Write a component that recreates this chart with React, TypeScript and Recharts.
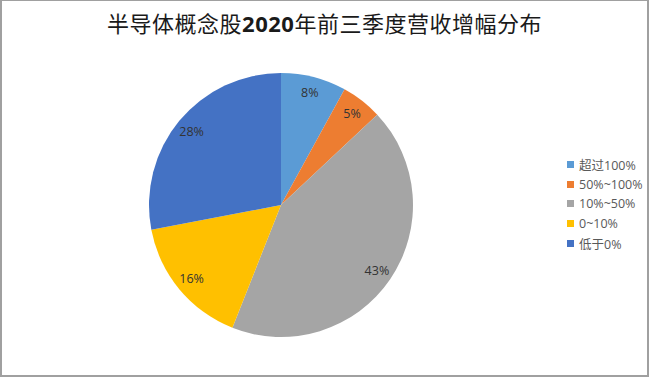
import React from "react";
import { PieChart, Pie, Cell } from "recharts";

const categories = ["超过100%", "50%~100%", "10%~50%", "0~10%", "低于0%"];
const shares = [8, 5, 43, 16, 28];
const colors = ["#5B9BD5", "#ED7D31", "#A5A5A5", "#FFC000", "#4472C4"];
const titleParts = ["半导体概念股", "2020", "年前三季度营收增幅分布"];

const data = categories.map((name, i) => ({ name, value: shares[i] }));

const RAD = Math.PI / 180;
const FONT = "'Open Sans', 'Noto Sans CJK SC', sans-serif";

const renderLabel = (props: any) => {
  const { cx, cy, midAngle, outerRadius, value } = props;
  const r = outerRadius - 16;
  const x = cx + r * Math.cos(-midAngle * RAD);
  const y = cy + r * Math.sin(-midAngle * RAD);
  return (
    <text
      x={x}
      y={y}
      textAnchor="middle"
      dominantBaseline="central"
      fill="#333333"
      fontSize={12.5}
      fontFamily={FONT}
    >
      {`${value}%`}
    </text>
  );
};

export default function App() {
  return (
    <div
      style={{
        position: "absolute",
        left: 0,
        top: 0,
        width: 649,
        height: 377,
        background: "#fff",
        boxSizing: "border-box",
        borderTop: "1px solid #a0a0a0",
        borderLeft: "2px solid #a0a0a0",
        borderRight: "2px solid #a0a0a0",
        borderBottom: "2px solid #a0a0a0",
        overflow: "hidden",
      }}
    >
      <div
        style={{
          position: "absolute",
          left: -2,
          top: 5,
          width: 649,
          textAlign: "center",
          fontFamily: "'Noto Sans CJK SC', sans-serif",
          fontSize: 22,
          color: "#1a1a1a",
          lineHeight: "32px",
          letterSpacing: 0.5,
        }}
      >
        {titleParts[0]}
        <span style={{ fontWeight: "bold", fontFamily: "'Open Sans', sans-serif" }}>{titleParts[1]}</span>
        {titleParts[2]}
      </div>
      <div style={{ position: "absolute", left: -2, top: -1 }}>
        <PieChart width={649} height={377} margin={{ top: 0, right: 0, bottom: 0, left: 0 }}>
          <Pie
            data={data}
            dataKey="value"
            nameKey="name"
            cx={281}
            cy={205}
            outerRadius={132}
            startAngle={90}
            endAngle={-270}
            stroke="none"
            label={renderLabel}
            labelLine={false}
            isAnimationActive={false}
          >
            {data.map((d, i) => (
              <Cell key={d.name} fill={colors[i]} />
            ))}
          </Pie>
        </PieChart>
      </div>
      <div
        style={{
          position: "absolute",
          left: 565,
          top: 154,
          fontFamily: FONT,
          fontSize: 12.5,
          color: "#595959",
        }}
      >
        {categories.map((c, i) => (
          <div
            key={c}
            style={{ display: "flex", alignItems: "center", height: 19.6, whiteSpace: "nowrap" }}
          >
            <span
              style={{
                display: "inline-block",
                width: 7,
                height: 7,
                background: colors[i],
                marginRight: 5,
              }}
            />
            <span>{c}</span>
          </div>
        ))}
      </div>
    </div>
  );
}
